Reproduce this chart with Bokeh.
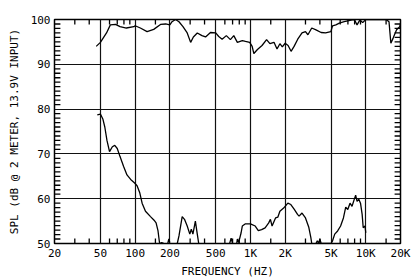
import numpy as np
from bokeh.plotting import figure
from bokeh.models import FixedTicker
from bokeh.embed import file_html
from bokeh.resources import INLINE

nan = float("nan")

# Upper curve (on-axis response)
upper_freq = [46, 50, 56.5, 61, 67.6, 74, 84, 97.5, 100, 111, 127, 145, 166, 184, 200,
              209, 224, 240, 260, 283, 303, 320, 346, 380, 408, 450, 500, 531, 568, 618,
              670, 717, 770, 850, 905, 985, 1035, 1070, 1150, 1260, 1380, 1475, 1600,
              1700, 1800, 1890, 2000, 2120, 2250, 2390, 2570, 2800, 3000, 3150, 3400,
              3700, 4100, 4480, 4980, 5150, 5500, 5900, 6500, 6980, 7600, 8000, 8400,
              8900, 9400, 10000, 11000, 12600, 13800, 15000, 15900, 16500, 17300, 18500,
              19700, 20000]
upper_spl = [94.0, 94.9, 97.0, 98.8, 98.9, 98.4, 98.1, 98.4, 98.6, 98.1, 97.3, 97.8, 98.9,
             99.0, 98.8, 99.5, 100.0, 99.5, 98.4, 97.0, 94.9, 96.1, 97.0, 96.4, 96.1, 97.1,
             97.0, 96.2, 95.6, 96.4, 95.5, 96.4, 94.9, 95.3, 95.1, 94.9, 94.0, 92.4, 93.3,
             94.2, 95.5, 94.6, 94.9, 93.4, 94.6, 93.9, 94.7, 94.2, 92.9, 94.0, 95.6, 97.0,
             97.3, 96.6, 98.1, 97.7, 97.1, 97.0, 97.3, 98.6, 98.8, 99.2, 99.5, 99.7, 99.9,
             99.9, 98.8, 99.9, 99.3, 100.0, 100.0, 100.0, 100.0, 100.0, 99.5, 94.7, 95.9,
             97.7, 98.4, 99.0]

# Lower curve (distortion), NaN = trace below 50 dB
lower_freq = [47, 50, 52.5, 54.6, 57, 60, 63.5, 66.6, 70, 74, 79.5, 85, 91.5, 99, 104,
              109.5, 115, 123, 136, 146, 152, 158, 163, 170, 178, 185, 192, 196, 200,
              215, 232, 240, 256, 268, 283, 298, 307, 317, 333, 346, 356, 500,
              660, 680, 700, 730, 760, 770, 790, 830, 850, 905, 1000, 1100, 1170, 1250,
              1340, 1440, 1490, 1540, 1650, 1730, 1800, 1940, 2110, 2240, 2400, 2560,
              2640, 2800, 3000, 3200, 3340, 3400, 3550, 3700, 3800, 3900, 4000, 4100,
              4500, 5000, 5150, 5380, 5700, 6050, 6400, 6700, 6980, 7300, 7600, 7930,
              8170, 8400, 8700, 9000, 9300, 9500, 9850, 10000]
lower_spl = [78.7, 78.9, 77.8, 76.0, 73.0, 70.5, 71.6, 71.9, 71.2, 69.4, 67.2, 65.3, 64.3,
             63.5, 62.9, 61.4, 59.0, 57.2, 56.0, 55.2, 54.6, 52.8, 50.0, 50.2, 50.0, nan,
             50.0, 51.0, 50.2, nan, 50.0, 51.7, 56.0, 55.4, 53.9, 52.1, 53.2, 52.1, 55.0,
             52.1, 50.0, nan, 50.0, 51.2, 50.0, nan, 50.0, 51.0, 50.2, 52.4, 53.9, 54.4,
             54.4, 53.9, 52.9, 53.1, 53.5, 54.6, 55.4, 53.9, 55.7, 55.9, 57.2, 57.9, 59.0,
             58.7, 57.6, 56.5, 56.1, 56.8, 55.7, 53.7, 51.3, 50.0, nan, 50.0, 50.6, 50.0,
             51.0, 50.0, 50.0, 50.0, 50.6, 52.1, 52.8, 53.9, 55.7, 58.1, 57.6, 59.0, 58.3,
             59.8, 60.8, 59.4, 59.9, 59.0, 56.5, 53.5, 53.9, 52.4]

x_ticks = [20, 50, 100, 200, 500, 1000, 2000, 5000, 10000, 20000]
x_labels = ["20", "50", "100", "200", "500", "1K", "2K", "5K", "10K", "20K"]
x_minor = [30, 40, 60, 70, 80, 90, 150, 300, 400, 600, 700, 800, 900, 1500,
           3000, 4000, 6000, 7000, 8000, 9000, 15000]
y_ticks = [50, 60, 70, 80, 90, 100]
y_minor = [v for v in range(51, 100) if v % 10 != 0]

X_MIN, X_MAX, Y_MIN, Y_MAX = 20, 20000, 50, 100
FONT = "DejaVu Sans Mono"

p = figure(width=420, height=280, x_axis_type="log", x_range=(X_MIN, X_MAX),
           y_range=(Y_MIN, Y_MAX), output_backend="svg", toolbar_location=None,
           min_border_left=54, min_border_right=20, min_border_top=19, min_border_bottom=35)
p.background_fill_color = "white"
p.border_fill_color = "white"
p.outline_line_color = "black"
p.outline_line_width = 1.5

p.xgrid.ticker = FixedTicker(ticks=x_ticks[1:-1])
p.ygrid.ticker = FixedTicker(ticks=y_ticks[1:-1])
for g in (p.xgrid, p.ygrid):
    g.grid_line_color = "#111111"
    g.grid_line_width = 1.2
    g.grid_line_alpha = 1.0

xa = p.xaxis[0]
xa.ticker = FixedTicker(ticks=x_ticks)
xa.major_label_overrides = {t: l for t, l in zip(x_ticks, x_labels)}
xa.axis_label = "FREQUENCY (HZ)"
ya = p.yaxis[0]
ya.ticker = FixedTicker(ticks=y_ticks)
ya.axis_label = "SPL (dB @ 2 METER, 13.9V INPUT)"

for ax in (xa, ya):
    ax.axis_line_color = None
    ax.major_tick_in = 0
    ax.major_tick_out = 0
    ax.minor_tick_in = 0
    ax.minor_tick_out = 0
    ax.major_label_text_font = FONT
    ax.major_label_text_font_size = "11px"
    ax.major_label_text_color = "black"
    ax.axis_label_text_font = FONT
    ax.axis_label_text_font_size = "11px"
    ax.axis_label_text_font_style = "normal"
    ax.axis_label_text_color = "black"
xa.major_label_standoff = 3
xa.axis_label_standoff = 2
ya.major_label_standoff = 4
ya.axis_label_standoff = 7

# inward minor tick marks drawn as short segments from the frame edges
TICK_DB = 1.1      # top/bottom tick length, dB
TICK_FAC = 1.125   # left/right tick length, frequency factor
p.segment(x0=x_minor, y0=[Y_MIN] * len(x_minor), x1=x_minor,
          y1=[Y_MIN + TICK_DB] * len(x_minor), line_color="black", line_width=1.3)
p.segment(x0=x_minor, y0=[Y_MAX] * len(x_minor), x1=x_minor,
          y1=[Y_MAX - TICK_DB] * len(x_minor), line_color="black", line_width=1.3)
p.segment(x0=[X_MIN] * len(y_minor), y0=y_minor, x1=[X_MIN * TICK_FAC] * len(y_minor),
          y1=y_minor, line_color="black", line_width=1.3)
p.segment(x0=[X_MAX] * len(y_minor), y0=y_minor, x1=[X_MAX / TICK_FAC] * len(y_minor),
          y1=y_minor, line_color="black", line_width=1.3)

p.line(upper_freq, upper_spl, line_color="black", line_width=1.3)
p.line(lower_freq, lower_spl, line_color="black", line_width=1.3)

open("out.html", "w").write(file_html(p, INLINE))
